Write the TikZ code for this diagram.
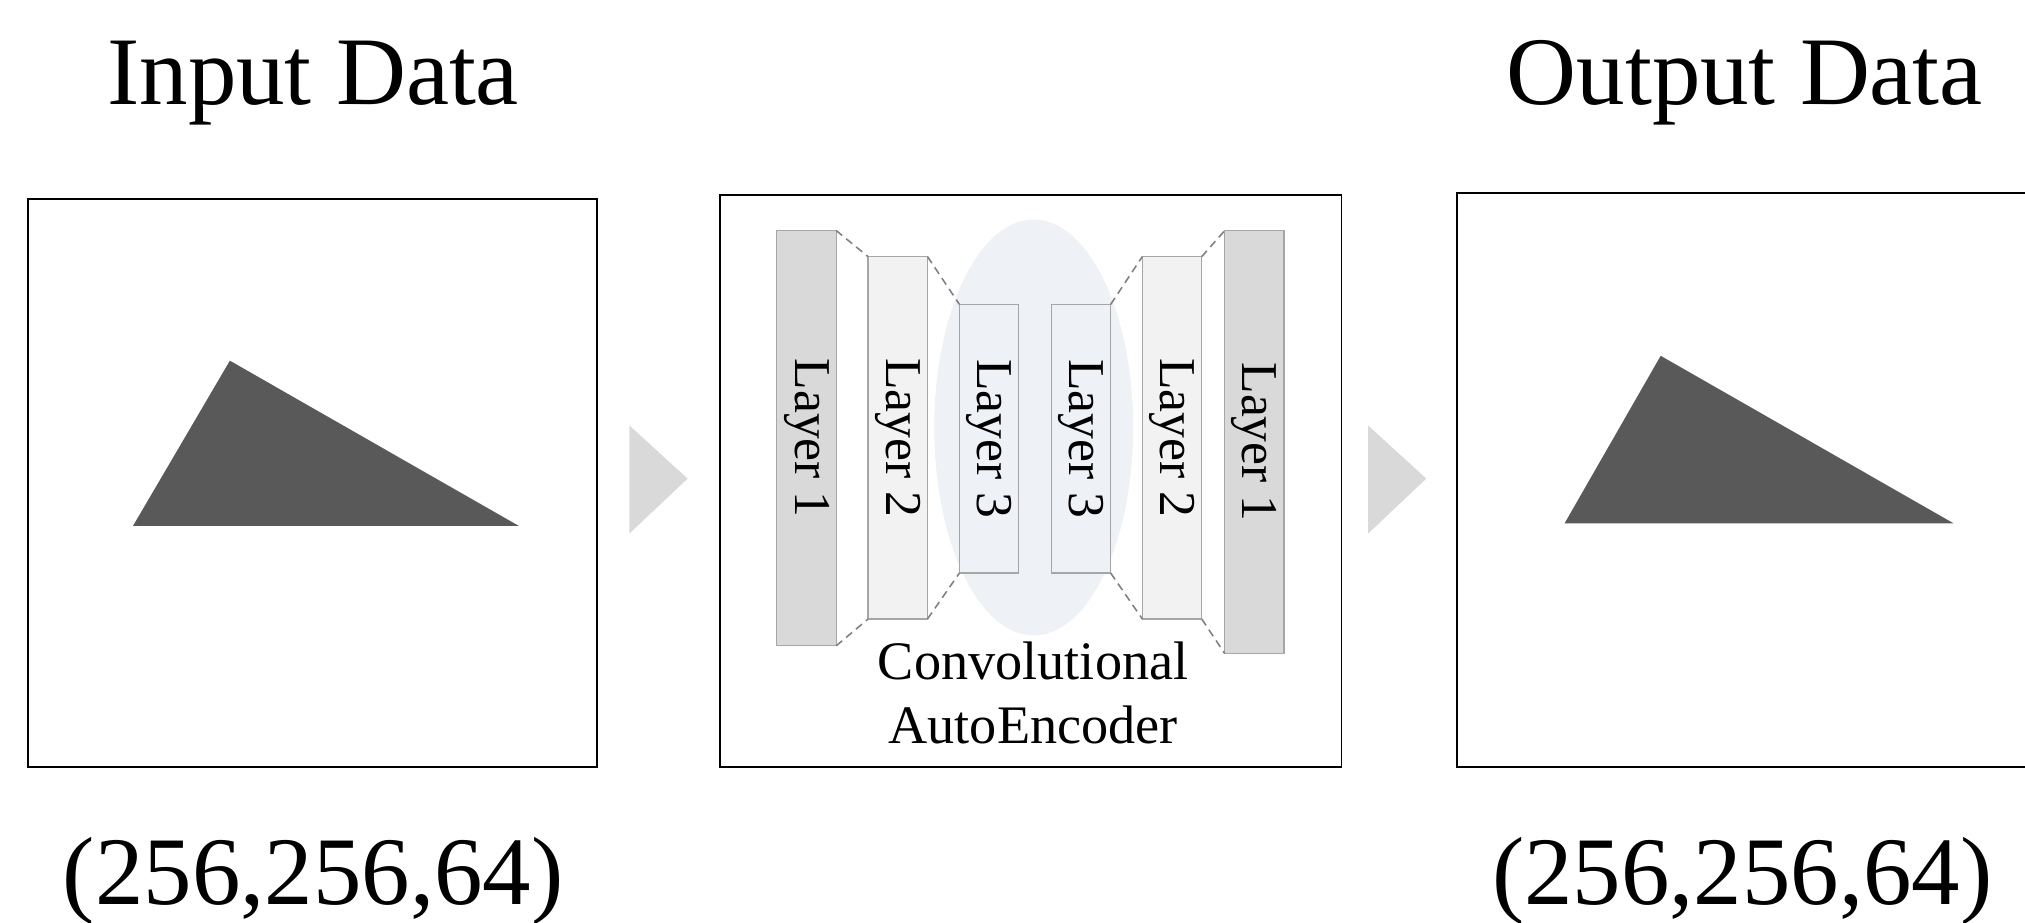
\documentclass[tikz,border=0pt]{standalone}
\usepackage{fontspec}
\setmainfont{Liberation Serif}
\definecolor{edgegray}{HTML}{A6A6A6}
\definecolor{dashgray}{HTML}{7F7F7F}
\definecolor{outerfill}{HTML}{D9D9D9}
\definecolor{midfill}{HTML}{F2F2F2}
\definecolor{innerfill}{HTML}{EEF2F6}
\definecolor{codefill}{HTML}{EEF2F6}
\definecolor{figfill}{HTML}{595959}
\tikzset{
  heading/.style={anchor=base, inner sep=0pt, font=\fontsize{75}{90}\selectfont},
  panel/.style={draw=black, line width=1.4pt, fill=white, outer sep=0pt, inner sep=0pt},
  layerbox/.style={draw=edgegray, line width=1pt, outer sep=0pt, inner sep=0pt,
    minimum width=46pt, font=\fontsize{40}{48}\selectfont},
  link/.style={draw=dashgray, line width=1.2pt, dash pattern=on 6pt off 4pt},
  figtri/.style={fill=figfill},
  chevron/.style={fill=outerfill},
  legend/.style={align=center, inner sep=0pt, font=\fontsize{42}{50}\selectfont}
}
\begin{document}
\begin{tikzpicture}[x=1pt,y=-1pt]
\useasboundingbox (0,0) rectangle (1568,714);
\node[heading] (intitle) at (242.5,81) {Input Data};
\node[heading] (outtitle) at (1351,81) {Output Data};
\node[panel, minimum width=440.8pt, minimum height=440.2pt] (inbox) at (241.8,373.9) {};
\node[panel, minimum width=481.2pt, minimum height=443pt] (caebox) at (798.1,372.5) {};
\node[panel, minimum width=470pt, minimum height=444.7pt, anchor=north west] (outbox) at (1128.2,149.3) {};
\fill[figtri] (178,279.3) -- (103,407.2) -- (401.7,407.2) -- cycle;
\fill[figtri] (1285.9,275.5) -- (1211.5,405.2) -- (1512.6,405.2) -- cycle;
\fill[chevron] (487.4,329.5) -- (532.4,370.6) -- (487.4,413.1) -- cycle;
\fill[chevron] (1059.4,329.5) -- (1104.4,370.6) -- (1059.4,413.1) -- cycle;
\fill[codefill] (800.4,331) ellipse [x radius=77, y radius=161];
\node[layerbox, fill=outerfill, minimum height=321.5pt] (l1a) at (624.5,339.3) {\rotatebox{-90}{Layer 1}};
\node[layerbox, fill=midfill, minimum height=280.5pt] (l2a) at (695.2,339) {\rotatebox{-90}{Layer 2}};
\node[layerbox, fill=innerfill, minimum height=208pt] (l3a) at (765.9,339.7) {\rotatebox{-90}{Layer 3}};
\node[layerbox, fill=innerfill, minimum height=208pt] (l3b) at (837,339.7) {\rotatebox{-90}{Layer 3}};
\node[layerbox, fill=midfill, minimum height=280.5pt] (l2b) at (907.5,339) {\rotatebox{-90}{Layer 2}};
\node[layerbox, fill=outerfill, minimum height=327.5pt] (l1b) at (971.3,342.3) {\rotatebox{-90}{Layer 1}};
\foreach \a/\b in {l1a/l2a, l2a/l3a}{
  \draw[link] (\a.north east) -- (\b.north west);
  \draw[link] (\a.south east) -- (\b.south west);
}
\foreach \a/\b in {l3b/l2b, l2b/l1b}{
  \draw[link] (\a.north east) -- (\b.north west);
  \draw[link] (\a.south east) -- (\b.south west);
}
\node[legend, anchor=base] (caelabel) at (800,576) {Convolutional\\AutoEncoder};
\node[heading] (indim) at (242.5,700) {(256,256,64)};
\node[heading] (outdim) at (1349,700) {(256,256,64)};
\end{tikzpicture}
\end{document}
